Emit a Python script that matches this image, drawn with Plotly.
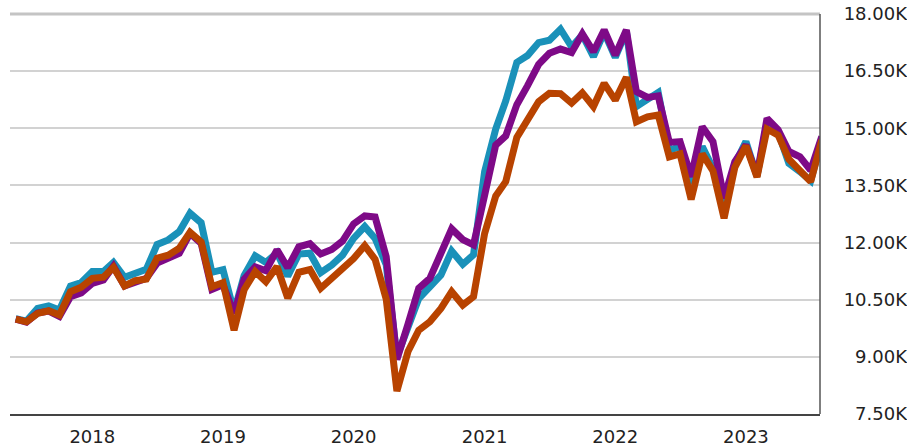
import pandas as pd
import plotly.graph_objects as go

# Monthly observations, first of month, June 2017 .. August 2023
start_month = "2017-06-01"
n_points = 75

blue_values = [
    10.00, 9.94, 10.27, 10.34, 10.23, 10.86, 10.95, 11.24, 11.24, 11.48,
    11.09, 11.21, 11.30, 11.95, 12.07, 12.29, 12.77, 12.52, 11.22, 11.29,
    10.18, 11.13, 11.65, 11.48, 11.73, 11.12, 11.70, 11.72, 11.21, 11.41,
    11.67, 12.11, 12.42, 12.11, 11.42, 9.00, 9.75, 10.53, 10.84, 11.15,
    11.78, 11.43, 11.68, 13.86, 14.98, 15.72, 16.73, 16.91, 17.25, 17.31,
    17.60, 17.14, 17.45, 16.88, 17.52, 16.86, 17.55, 15.57, 15.76, 15.94,
    14.42, 14.52, 13.55, 14.52, 13.95, 12.85, 14.05, 14.65, 13.74, 15.15,
    14.90, 14.08, 13.86, 13.62, 14.70,
]

purple_values = [
    9.99, 9.91, 10.15, 10.20, 10.06, 10.58, 10.68, 10.93, 11.02, 11.38,
    10.86, 10.97, 11.06, 11.46, 11.59, 11.72, 12.24, 11.98, 10.77, 10.89,
    10.14, 11.04, 11.36, 11.26, 11.81, 11.34, 11.89, 11.97, 11.70, 11.82,
    12.04, 12.49, 12.70, 12.67, 11.63, 8.93, 9.86, 10.80, 11.06, 11.72,
    12.36, 12.08, 11.94, 13.24, 14.56, 14.80, 15.62, 16.12, 16.68, 16.97,
    17.08, 16.99, 17.48, 17.01, 17.58, 16.92, 17.58, 15.96, 15.81, 15.85,
    14.63, 14.65, 13.73, 15.04, 14.65, 13.16, 14.12, 14.56, 13.77, 15.26,
    14.96, 14.39, 14.25, 13.90, 14.78,
]

orange_values = [
    9.99, 9.92, 10.14, 10.21, 10.10, 10.71, 10.83, 11.06, 11.09, 11.35,
    10.86, 11.00, 11.04, 11.59, 11.67, 11.85, 12.27, 12.02, 10.84, 10.95,
    9.70, 10.76, 11.24, 10.97, 11.37, 10.54, 11.22, 11.29, 10.80, 11.07,
    11.29, 11.58, 11.92, 11.56, 10.52, 8.10, 9.14, 9.70, 9.92, 10.27,
    10.71, 10.36, 10.58, 12.24, 13.22, 13.60, 14.76, 15.22, 15.70, 15.92,
    15.91, 15.66, 15.93, 15.57, 16.18, 15.74, 16.34, 15.17, 15.30, 15.35,
    14.25, 14.33, 13.13, 14.33, 13.88, 12.64, 13.97, 14.54, 13.72, 14.98,
    14.82, 14.19, 13.92, 13.60, 14.69,
]

y_tick_values = [7.5, 9.0, 10.5, 12.0, 13.5, 15.0, 16.5, 18.0]
y_tick_labels = ["7.50K", "9.00K", "10.50K", "12.00K", "13.50K", "15.00K", "16.50K", "18.00K"]
x_tick_values = ["2018-01-01", "2019-01-01", "2020-01-01", "2021-01-01", "2022-01-01", "2023-01-01"]
x_tick_labels = ["2018", "2019", "2020", "2021", "2022", "2023"]

dates = pd.date_range(start_month, periods=n_points, freq="MS")

series = [
    ("Blue", blue_values, "#1a91b9"),
    ("Purple", purple_values, "#7e0a87"),
    ("Orange", orange_values, "#b84300"),
]

fig = go.Figure()
for name, vals, color in series:
    fig.add_trace(go.Scatter(
        x=dates, y=vals, mode="lines", name=name,
        line=dict(color=color, width=7),
        hoverinfo="skip",
    ))

W, H = 907, 448
ml, mr, mt, mb = 10, 0, 14, 34
plot_right = 820
dom_right = (plot_right - ml) / (W - ml - mr)

font_family = "DejaVu Sans"
fig.update_layout(
    width=W, height=H,
    margin=dict(l=ml, r=mr, t=mt, b=mb, pad=0),
    paper_bgcolor="white", plot_bgcolor="white",
    showlegend=False,
    font=dict(family=font_family, size=18, color="#222222"),
    xaxis=dict(
        type="date",
        domain=[0, dom_right],
        range=["2017-05-16", "2023-07-27"],
        tickmode="array", tickvals=x_tick_values, ticktext=x_tick_labels,
        showgrid=False, zeroline=False,
        showline=True, linecolor="#444444", linewidth=2,
        ticks="outside", ticklen=5, tickcolor="rgba(0,0,0,0)",
        tickfont=dict(family=font_family, size=18, color="#222222"),
    ),
    yaxis=dict(
        range=[7.5, 18.0],
        side="left", anchor="free", position=1.0,
        tickmode="array", tickvals=y_tick_values, ticktext=y_tick_labels,
        showgrid=True, gridcolor="#d2d2d2", gridwidth=1.5,
        zeroline=False, showline=False, ticks="",
        tickfont=dict(family=font_family, size=18, color="#222222"),
        automargin=False,
    ),
)

fig.add_shape(type="line", xref="x domain", yref="y domain",
              x0=0, x1=1, y0=1, y1=1,
              line=dict(color="#c4c4c4", width=3), layer="above")
fig.add_shape(type="line", xref="x domain", yref="y domain",
              x0=1, x1=1, y0=0, y1=1,
              line=dict(color="#555555", width=1.5), layer="above")

fig.write_html(
    "out.html",
    config={"displayModeBar": False},
    post_script="document.body.style.margin='0px';",
)
